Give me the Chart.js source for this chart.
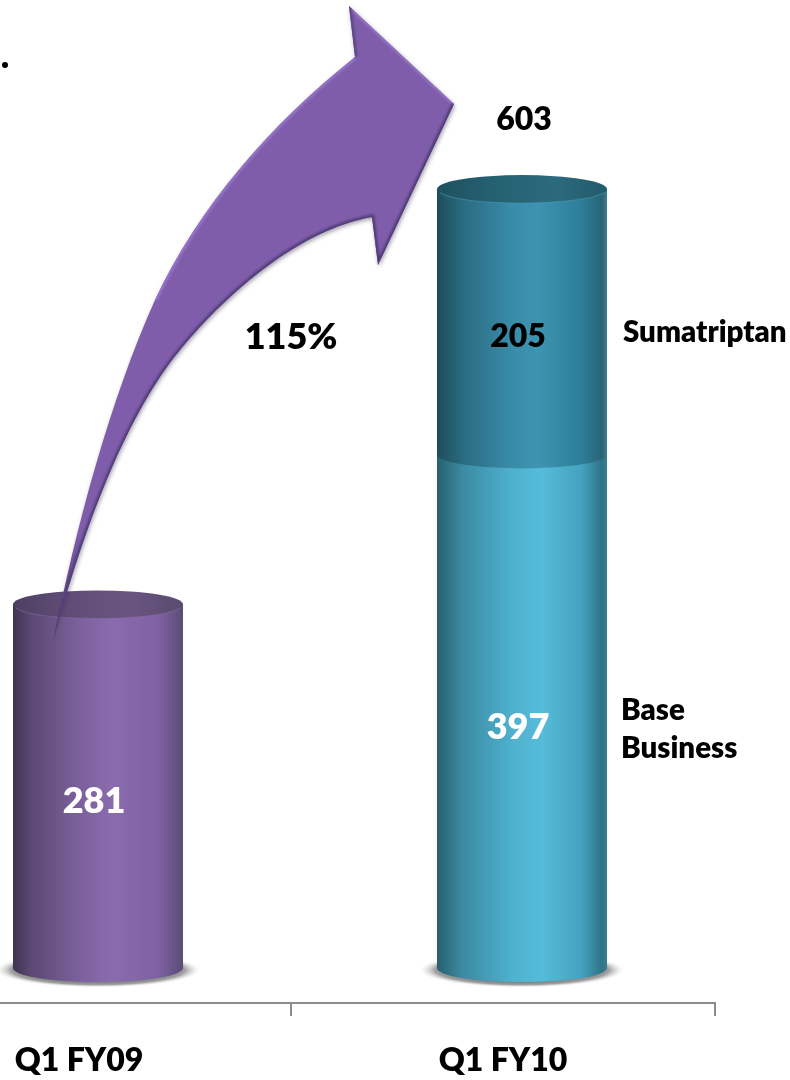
<!DOCTYPE html>
<html>
<head>
<meta charset="utf-8">
<script src="https://cdn.jsdelivr.net/npm/chart.js@4/dist/chart.umd.min.js"></script>
<style>
  html, body { margin: 0; padding: 0; background: #fff; width: 790px; height: 1080px; overflow: hidden; }
  #wrap { position: absolute; left: -140px; top: 0; width: 930px; height: 1080px; }
</style>
</head>
<body>
<div id="wrap"><canvas id="c" width="930" height="1080"></canvas></div>
<script>
const categories = ['Q1 FY09', 'Q1 FY10'];
const baseBusiness = [281, 397];
const sumatriptan = [null, 205];
const totals = [null, 603];
const growthLabel = '115%';
const seriesLabels = { sumatriptan: ['Sumatriptan'], base: ['Base', 'Business'] };

// Cylinder shading: left-to-right stops across the body of each bar.
const purpleStops = [[0,'#3e3350'],[0.1,'#5a4872'],[0.35,'#785e97'],[0.58,'#8a6cae'],[0.85,'#7f62a2'],[0.97,'#63507f'],[1,'#5a4c78']];
const lightTealStops = [[0,'#27606f'],[0.15,'#3c8aa3'],[0.45,'#4fb2cf'],[0.62,'#55bcd9'],[0.85,'#44a2be'],[0.97,'#2f7388'],[1,'#3a7f92']];
const darkTealStops = [[0,'#1d4c5b'],[0.15,'#2a6b80'],[0.45,'#398dab'],[0.6,'#3d94b0'],[0.85,'#2c7e99'],[0.97,'#2a6375'],[1,'#3f7d8e']];
const purpleCapStops = [[0,'#4d3f63'],[0.3,'#5f4c76'],[0.7,'#6a5580'],[1,'#574a70']];
const tealCapStops = [[0,'#1e5060'],[0.3,'#246070'],[0.7,'#2b6a7d'],[1,'#225a6b']];

const BAR_SHARE = 0.401;      // bar width as a share of its category
const DEPTH_X = 19;           // sideways shift of the 3D floor
const CAP_RATIO = 0.165;      // ellipse height / width
const PAGE_SHIFT = 140;       // canvas starts left of the page

function barGeom(chart, i) {
  const x = chart.scales.x.getPixelForValue(i);
  const w = chart.scales.x.getPixelForValue(1) - chart.scales.x.getPixelForValue(0);
  return { x: x, half: w * BAR_SHARE / 2 };
}
function sideGradient(chart, i, stops) {
  const g = barGeom(chart, i);
  const grad = chart.ctx.createLinearGradient(g.x - g.half, 0, g.x + g.half, 0);
  stops.forEach(s => grad.addColorStop(s[0], s[1]));
  return grad;
}
function fillFor(ds, idx) {
  return ds === 0 ? (idx === 0 ? purpleStops : lightTealStops) : darkTealStops;
}

// Curved growth arrow laid over the plot.
function outerEdge(ctx) {
  ctx.moveTo(53, 643);
  ctx.bezierCurveTo(75, 530, 110, 400, 155, 300);
  ctx.bezierCurveTo(200, 205, 270, 125, 355, 57);
}
function innerEdgeBack(ctx) {
  ctx.bezierCurveTo(300, 230, 230, 290, 180, 350);
  ctx.bezierCurveTo(130, 410, 85, 520, 53, 643);
}
function arrowPath(ctx) {
  ctx.beginPath();
  outerEdge(ctx);
  ctx.lineTo(349, 6);
  ctx.lineTo(454, 104);
  ctx.lineTo(378, 265);
  ctx.lineTo(372, 217);
  innerEdgeBack(ctx);
  ctx.closePath();
}
function drawArrow(ctx) {
  ctx.save();
  ctx.shadowColor = 'rgba(50,40,70,0.45)';
  ctx.shadowBlur = 4;
  ctx.shadowOffsetX = 1;
  ctx.shadowOffsetY = 2;
  const body = ctx.createLinearGradient(0, 643, 0, 530);
  body.addColorStop(0, '#3f3158');
  body.addColorStop(0.3, '#5f4786');
  body.addColorStop(1, '#7f5dab');
  ctx.fillStyle = body;
  arrowPath(ctx);
  ctx.fill();
  ctx.restore();

  ctx.save();
  arrowPath(ctx);
  ctx.clip();
  ctx.filter = 'blur(1px)';
  ctx.lineWidth = 5;
  ctx.lineJoin = 'miter';
  // lit edges: upper curve and the top of the head
  ctx.strokeStyle = '#9574c8';
  ctx.beginPath();
  ctx.moveTo(155, 300);
  ctx.bezierCurveTo(200, 205, 270, 125, 355, 57);
  ctx.stroke();
  ctx.lineWidth = 4;
  ctx.beginPath();
  ctx.moveTo(349, 6);
  ctx.lineTo(454, 104);
  ctx.stroke();
  // shaded edges: lower curve and the underside of the head
  ctx.lineWidth = 5;
  ctx.strokeStyle = '#513d78';
  ctx.beginPath();
  ctx.moveTo(454, 104);
  ctx.lineTo(378, 265);
  ctx.lineTo(372, 217);
  innerEdgeBack(ctx);
  ctx.stroke();
  ctx.strokeStyle = '#5d4788';
  ctx.beginPath();
  ctx.moveTo(349, 6);
  ctx.lineTo(355, 57);
  ctx.stroke();
  ctx.restore();
}

const cylinderPlugin = {
  id: 'cylinder',
  beforeDatasetsDraw(chart) {
    const ctx = chart.ctx, y0 = chart.scales.y.getPixelForValue(0);
    ctx.save();
    ctx.translate(DEPTH_X, 0);
    // soft floor shadow under each bar
    categories.forEach((_, i) => {
      const g = barGeom(chart, i);
      ctx.save();
      ctx.translate(g.x, y0 + 2);
      ctx.scale(1, 0.17);
      const r = g.half * 1.2;
      const rad = ctx.createRadialGradient(0, 0, r * 0.7, 0, 0, r);
      rad.addColorStop(0, '#808080');
      rad.addColorStop(0.5, '#a0a0a0');
      rad.addColorStop(1, 'rgba(225,225,225,0)');
      ctx.fillStyle = rad;
      ctx.beginPath();
      ctx.arc(0, 0, r, 0, Math.PI * 2);
      ctx.fill();
      ctx.restore();
    });
  },
  afterDatasetsDraw(chart) {
    const ctx = chart.ctx, y = chart.scales.y;
    // rounded lower edge of every segment, bottom of the stack first;
    // the path reaches a little above the seam so no light row shows through
    [0, 1].forEach(ds => {
      chart.getDatasetMeta(ds).data.forEach((el, i) => {
        if (chart.data.datasets[ds].data[i] == null) return;
        const g = barGeom(chart, i);
        ctx.fillStyle = sideGradient(chart, i, fillFor(ds, i));
        ctx.beginPath();
        ctx.ellipse(g.x, el.base, g.half, g.half * CAP_RATIO, 0, 0, Math.PI);
        ctx.lineTo(g.x - g.half, el.base - 2);
        ctx.lineTo(g.x + g.half, el.base - 2);
        ctx.closePath();
        ctx.fill();
      });
    });
    // top cap of each stack, with a faint lit rim on its front edge
    categories.forEach((_, i) => {
      const g = barGeom(chart, i);
      const top = y.getPixelForValue((baseBusiness[i] || 0) + (sumatriptan[i] || 0));
      ctx.fillStyle = sideGradient(chart, i, i === 0 ? purpleCapStops : tealCapStops);
      ctx.beginPath();
      ctx.ellipse(g.x, top, g.half, g.half * CAP_RATIO, 0, 0, Math.PI * 2);
      ctx.fill();
      ctx.strokeStyle = i === 0 ? 'rgba(140,115,175,0.4)' : 'rgba(80,160,185,0.45)';
      ctx.lineWidth = 1.2;
      ctx.beginPath();
      ctx.ellipse(g.x, top, g.half, g.half * CAP_RATIO, 0, 0.25, Math.PI - 0.25);
      ctx.stroke();
    });
    ctx.restore();

    ctx.save();
    ctx.translate(PAGE_SHIFT, 0);
    drawArrow(ctx);
    // bullet at the page edge
    ctx.fillStyle = '#000';
    ctx.beginPath();
    ctx.arc(5, 65, 3, 0, Math.PI * 2);
    ctx.fill();

    // text set on and beside the bars
    const face = s => '800 ' + s + 'px Lato, sans-serif';
    const cx = i => chart.scales.x.getPixelForValue(i) - PAGE_SHIFT;
    ctx.textAlign = 'center';
    ctx.textBaseline = 'middle';
    ctx.font = face(36);
    ctx.fillStyle = '#fff';
    ctx.fillText(String(baseBusiness[0]), cx(0) + 15, 801);
    ctx.fillText(String(baseBusiness[1]), cx(1) + 15, 727);
    ctx.font = face(32);
    ctx.fillStyle = '#000';
    ctx.fillText(String(sumatriptan[1]), cx(1) + 15, 337);
    ctx.fillText(String(totals[1]), cx(1) + 21, 120);
    ctx.font = face(36);
    ctx.fillText(growthLabel, 291, 337);
    ctx.font = face(29.5);
    ctx.textAlign = 'left';
    ctx.fillText(seriesLabels.sumatriptan[0], 623, 332);
    ctx.fillText(seriesLabels.base[0], 621, 710);
    ctx.fillText(seriesLabels.base[1], 621, 748);
    ctx.restore();
  }
};

new Chart(document.getElementById('c'), {
  type: 'bar',
  plugins: [cylinderPlugin],
  data: {
    labels: categories,
    datasets: [
      { label: 'Base Business', data: baseBusiness,
        backgroundColor: c => c.chart.chartArea ? sideGradient(c.chart, c.dataIndex, fillFor(0, c.dataIndex)) : '#54bbd8' },
      { label: 'Sumatriptan', data: sumatriptan,
        backgroundColor: c => c.chart.chartArea ? sideGradient(c.chart, c.dataIndex, fillFor(1, c.dataIndex)) : '#3d94b0' }
    ]
  },
  options: {
    responsive: false,
    animation: false,
    maintainAspectRatio: false,
    events: [],
    layout: { padding: { left: 7, right: 75, top: 30, bottom: 0 } },
    datasets: { bar: { categoryPercentage: 1, barPercentage: BAR_SHARE, borderWidth: 0, clip: false } },
    plugins: { legend: { display: false }, tooltip: { enabled: false }, title: { display: false } },
    scales: {
      x: {
        stacked: true,
        afterFit(axis) { axis.height = 77; },
        grid: { offset: true, drawOnChartArea: false, drawTicks: true, tickLength: 13, color: '#8c8c8c', lineWidth: 2 },
        border: { color: '#8c8c8c', width: 2 },
        ticks: { color: '#000', padding: 25, maxRotation: 0, font: { family: 'Lato', weight: '800', size: 32 } }
      },
      y: {
        stacked: true,
        display: false,
        min: -27,
        max: 725
      }
    }
  }
});
</script>
</body>
</html>
